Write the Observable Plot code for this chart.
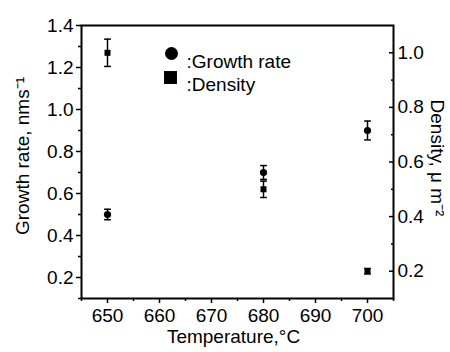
<!DOCTYPE html>
<html>
<head>
<meta charset="utf-8">
<script src="https://cdn.jsdelivr.net/npm/d3@7"></script>
<script src="https://cdn.jsdelivr.net/npm/@observablehq/plot@0.6"></script>
<style>
  html, body { margin: 0; padding: 0; background: white; }
</style>
</head>
<body>
<div id="chart"></div>
<script>
const temps = [650, 680, 700];
const growthRate = [0.50, 0.70, 0.90];
const growthErr = [0.025, 0.033, 0.045];
const density = [1.00, 0.50, 0.20];
const densityErr = [0.05, 0.03, 0.01];

const xTicks = [650, 660, 670, 680, 690, 700];
const xMinor = [645, 655, 665, 675, 685, 695, 705];
const yTicks = [0.2, 0.4, 0.6, 0.8, 1.0, 1.2, 1.4];
const yMinor = [0.1, 0.3, 0.5, 0.7, 0.9, 1.1, 1.3];
const dTicks = [0.2, 0.4, 0.6, 0.8, 1.0];
const dMinor = [0.3, 0.5, 0.7, 0.9];

const leftDomain = [0.1, 1.4];
const rightDomain = [0.1, 1.1];
const toLeft = d3.scaleLinear(rightDomain, leftDomain);
const toRight = toLeft.invert;

const growth = temps.map((t, i) => ({t, v: growthRate[i], e: growthErr[i]}));
const dens = temps.map((t, i) => ({t, v: toLeft(density[i]), lo: toLeft(density[i] - densityErr[i]), hi: toLeft(density[i] + densityErr[i])}));

const font = "'Liberation Sans', Arial, sans-serif";
const fs = 19;
const cap = 0.65;

const chart = Plot.plot({
  width: 450,
  height: 352,
  marginLeft: 81,
  marginRight: 57,
  marginTop: 25,
  marginBottom: 54,
  style: {fontFamily: font, fontSize: fs + "px", color: "black", background: "white"},
  x: {domain: [645, 705]},
  y: {domain: leftDomain},
  marks: [
    Plot.frame({stroke: "black", strokeWidth: 2}),
    Plot.axisX(xTicks, {tickSize: 5, tickPadding: 5, strokeWidth: 1.5, fontSize: fs, label: null}),
    Plot.axisX(xMinor, {tickSize: 3, text: null, strokeWidth: 1.5, label: null}),
    Plot.axisY(yTicks, {anchor: "left", tickSize: 5, tickPadding: 3, strokeWidth: 1.5, tickFormat: d3.format(".1f"), fontSize: fs, label: null}),
    Plot.axisY(yMinor, {anchor: "left", tickSize: 3, text: null, strokeWidth: 1.5, label: null}),
    Plot.axisY(dTicks.map(toLeft), {anchor: "right", tickSize: 5, insetRight: 5, text: null, strokeWidth: 1.5, label: null}),
    Plot.axisY(dMinor.map(toLeft), {anchor: "right", tickSize: 3, insetRight: 3, text: null, strokeWidth: 1.5, label: null}),
    Plot.axisY(dTicks.map(toLeft), {anchor: "right", tickSize: 0, tickPadding: 4, tickFormat: v => d3.format(".1f")(toRight(v)), fontSize: fs, label: null}),

    // growth rate error bars
    Plot.ruleX(growth, {x: "t", y1: d => d.v - d.e, y2: d => d.v + d.e, stroke: "black", strokeWidth: 1.5}),
    Plot.link(growth, {x1: d => d.t - cap, x2: d => d.t + cap, y1: d => d.v + d.e, y2: d => d.v + d.e, stroke: "black", strokeWidth: 1.5}),
    Plot.link(growth, {x1: d => d.t - cap, x2: d => d.t + cap, y1: d => d.v - d.e, y2: d => d.v - d.e, stroke: "black", strokeWidth: 1.5}),
    // density error bars
    Plot.ruleX(dens, {x: "t", y1: "lo", y2: "hi", stroke: "black", strokeWidth: 1.5}),
    Plot.link(dens, {x1: d => d.t - cap, x2: d => d.t + cap, y1: "hi", y2: "hi", stroke: "black", strokeWidth: 1.5}),
    Plot.link(dens, {x1: d => d.t - cap, x2: d => d.t + cap, y1: "lo", y2: "lo", stroke: "black", strokeWidth: 1.5}),

    Plot.dot(growth, {x: "t", y: "v", r: 3.6, fill: "black", symbol: "circle"}),
    Plot.dot(dens, {x: "t", y: "v", r: 3.4, fill: "black", symbol: "square"}),

    // legend
    Plot.dot([0], {frameAnchor: "top-left", dx: 90, dy: 28, r: 6.5, fill: "black", symbol: "circle"}),
    Plot.dot([0], {frameAnchor: "top-left", dx: 89, dy: 52, r: 7.3, fill: "black", symbol: "square"}),
    Plot.text([":Growth rate"], {text: d => d, frameAnchor: "top-left", dx: 105, dy: 29, textAnchor: "start", fontSize: fs}),
    Plot.text([":Density"], {text: d => d, frameAnchor: "top-left", dx: 105, dy: 52, textAnchor: "start", fontSize: fs}),

    // axis titles
    Plot.text(["Growth rate, nms⁻¹"], {text: d => d, frameAnchor: "left", textAnchor: "middle", dx: -59, dy: -6, rotate: -90, fontSize: fs}),
    Plot.text(["Density, μ m⁻²"], {text: d => d, frameAnchor: "right", textAnchor: "middle", dx: 44, dy: -4, rotate: 90, fontSize: fs}),
    Plot.text(["Temperature,°C"], {text: d => d, frameAnchor: "bottom", dx: -4, dy: 44, fontSize: fs})
  ]
});
document.getElementById("chart").appendChild(chart);
</script>
</body>
</html>
